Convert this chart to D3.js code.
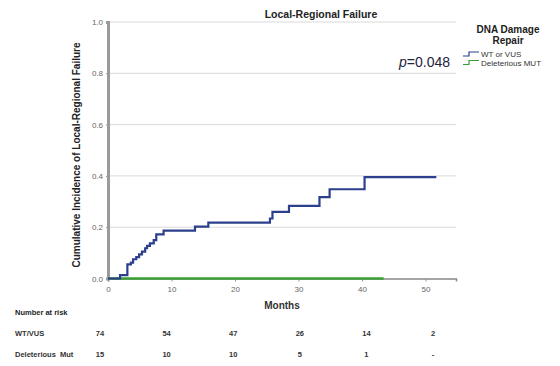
<!DOCTYPE html>
<html>
<head>
<meta charset="utf-8">
<script src="https://cdn.jsdelivr.net/npm/d3@7"></script>
<style>
  body { margin: 0; background: #fff; }
  svg { display: block; }
  text { font-family: "Liberation Sans", Arial, sans-serif; }
</style>
</head>
<body>
<div id="chart"></div>
<script>
// WT or VUS cumulative incidence (step after)
var wtMonths = [0, 1.9, 3.05, 3.6, 3.95, 4.45, 4.9, 5.35, 5.85, 6.15, 6.6, 7.2, 7.6, 8.75, 13.7, 15.8, 25.5, 25.9, 28.5, 33.3, 34.9, 40.4, 51.7];
var wtValues = [0, 0.013, 0.055, 0.062, 0.075, 0.083, 0.094, 0.105, 0.118, 0.127, 0.137, 0.15, 0.172, 0.187, 0.202, 0.218, 0.234, 0.26, 0.283, 0.317, 0.348, 0.395, 0.395];
// Deleterious MUT: no events
var mutMonths = [0, 43.4];
var mutValues = [0, 0];

var xTicks = [0, 10, 20, 30, 40, 50];
var yTicks = [0, 0.2, 0.4, 0.6, 0.8, 1.0];

var riskRows = ["WT/VUS", "Deleterious  Mut"];
var riskWT = ["74", "54", "47", "26", "14", "2"];
var riskMut = ["15", "10", "10", "5", "1", "-"];

var seriesNames = ["WT or VUS", "Deleterious MUT"];
var seriesColors = ["#2c3f8c", "#3a9e35"];

var W = 560, H = 366;
var svg = d3.select("#chart").append("svg").attr("width", W).attr("height", H);

var x = d3.scaleLinear().domain([0, 54.8]).range([108, 456]);
var y = d3.scaleLinear().domain([0, 1]).range([278.5, 22]);

// gridlines
svg.append("g")
    .selectAll("line")
    .data(yTicks.filter(function (d) { return d > 0; }))
    .enter().append("line")
    .attr("x1", x(0)).attr("x2", x(54.8))
    .attr("y1", function (d) { return y(d); })
    .attr("y2", function (d) { return y(d); })
    .attr("stroke", "#dadada").attr("stroke-width", 1);

// x axis
var xAxis = svg.append("g")
    .attr("transform", "translate(0," + y(0) + ")")
    .call(d3.axisBottom(x).tickValues(xTicks).tickSize(3).tickFormat(d3.format("d")));
xAxis.select(".domain").attr("stroke", "#888").attr("stroke-width", 1.5);
xAxis.selectAll(".tick line").attr("stroke", "#999");
xAxis.selectAll("text").attr("fill", "#666").attr("font-size", 8).attr("dy", "0.9em");

// y axis
var yAxis = svg.append("g")
    .attr("transform", "translate(" + x(0) + ",0)")
    .call(d3.axisLeft(y).tickValues(yTicks).tickSize(2).tickFormat(d3.format(".1f")));
yAxis.select(".domain").attr("stroke", "#9a9a9a").attr("stroke-width", 3);
yAxis.selectAll(".tick line").attr("stroke", "#999");
yAxis.selectAll("text").attr("fill", "#666").attr("font-size", 8);

// curves
var line = d3.line()
    .x(function (d) { return x(d[0]); })
    .y(function (d) { return y(d[1]); })
    .curve(d3.curveStepAfter);

svg.append("path")
    .datum(d3.zip(mutMonths, mutValues))
    .attr("d", line)
    .attr("fill", "none")
    .attr("stroke", seriesColors[1])
    .attr("stroke-width", 2.5);

svg.append("path")
    .datum(d3.zip(wtMonths, wtValues))
    .attr("d", line)
    .attr("fill", "none")
    .attr("stroke", seriesColors[0])
    .attr("stroke-width", 2.2);

// titles
svg.append("text")
    .attr("x", 321).attr("y", 18)
    .attr("text-anchor", "middle")
    .attr("font-weight", "bold").attr("font-size", 10.5)
    .attr("fill", "#222")
    .text("Local-Regional Failure");

svg.append("text")
    .attr("transform", "translate(80,155) rotate(-90)")
    .attr("text-anchor", "middle")
    .attr("font-weight", "bold").attr("font-size", 10)
    .attr("fill", "#222")
    .text("Cumulative Incidence of Local-Regional Failure");

svg.append("text")
    .attr("x", 282).attr("y", 309)
    .attr("text-anchor", "middle")
    .attr("font-weight", "bold").attr("font-size", 10)
    .attr("fill", "#333")
    .text("Months");

// p value
var pv = svg.append("text")
    .attr("x", 450).attr("y", 67)
    .attr("text-anchor", "end")
    .attr("font-size", 14)
    .attr("fill", "#1d2340");
pv.append("tspan").attr("font-style", "italic").text("p");
pv.append("tspan").text("=0.048");

// legend
svg.append("text")
    .attr("x", 508).attr("y", 33)
    .attr("text-anchor", "middle")
    .attr("font-weight", "bold").attr("font-size", 10)
    .attr("fill", "#222")
    .selectAll("tspan")
    .data(["DNA Damage", "Repair"])
    .enter().append("tspan")
    .attr("x", 508)
    .attr("dy", function (d, i) { return i === 0 ? 0 : 11; })
    .text(function (d) { return d; });

var leg = svg.append("g")
    .selectAll("g")
    .data(seriesNames)
    .enter().append("g")
    .attr("transform", function (d, i) { return "translate(463," + (54 + i * 8.5) + ")"; });
leg.append("path")
    .attr("d", "M0,2H6V-2H16")
    .attr("fill", "none")
    .attr("stroke", function (d, i) { return seriesColors[i]; })
    .attr("stroke-width", 1.2);
leg.append("text")
    .attr("x", 18).attr("y", 3)
    .attr("font-size", 8)
    .attr("fill", "#333")
    .text(function (d) { return d; });

// number at risk table
var col = d3.scalePoint().domain(d3.range(6)).range([100, 433]);
svg.append("text")
    .attr("x", 15).attr("y", 315)
    .attr("font-weight", "bold").attr("font-size", 7.5)
    .attr("fill", "#222")
    .text("Number at risk");

var rows = svg.append("g")
    .selectAll("g")
    .data([riskWT, riskMut])
    .enter().append("g")
    .attr("transform", function (d, i) { return "translate(0," + (336 + i * 21) + ")"; });
rows.append("text")
    .attr("x", 15)
    .attr("font-size", 7.5).attr("font-weight", "bold")
    .attr("fill", "#333")
    .attr("xml:space", "preserve")
    .text(function (d, i) { return riskRows[i]; });
rows.selectAll(".v")
    .data(function (d) { return d; })
    .enter().append("text")
    .attr("class", "v")
    .attr("x", function (d, i) { return col(i); })
    .attr("text-anchor", "middle")
    .attr("font-size", 7.5).attr("font-weight", "bold")
    .attr("fill", "#333")
    .text(function (d) { return d; });
</script>
</body>
</html>
